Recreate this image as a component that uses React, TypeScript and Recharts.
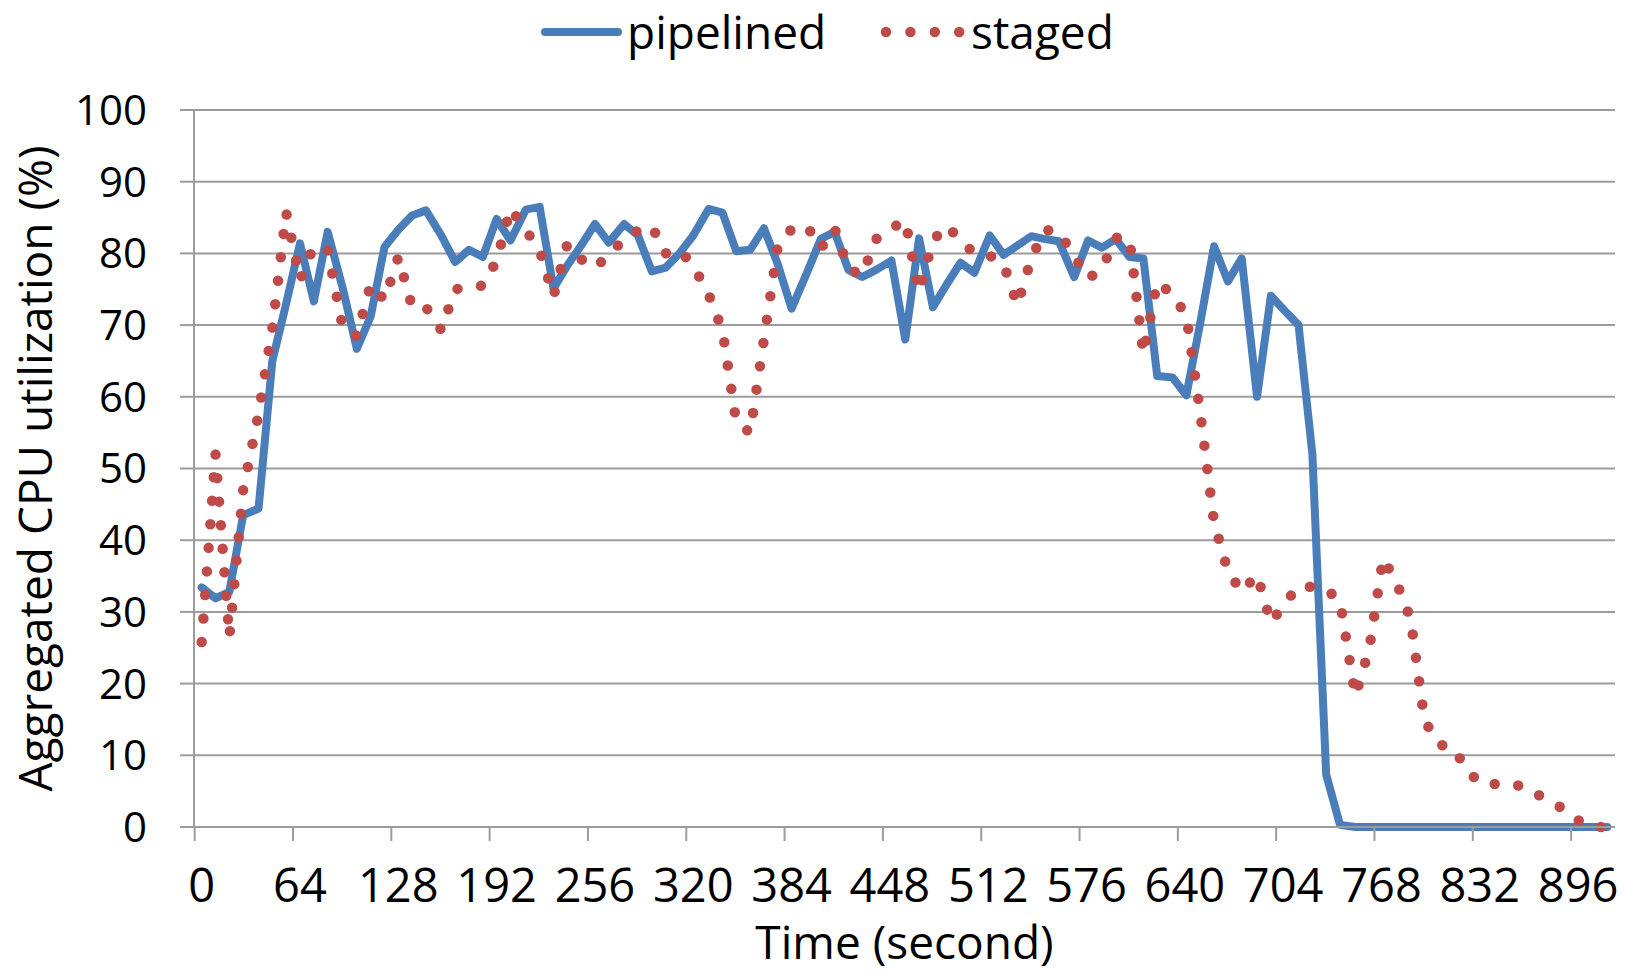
import React from 'react';
import { LineChart, Line, XAxis, YAxis, CartesianGrid, Legend, Label } from 'recharts';

// Sample times (seconds) of the measurements
const TIMES = [
  0, 9, 18, 27, 37, 46, 55, 64, 73, 82,
  92, 101, 110, 119, 128, 137, 146, 156, 165, 174,
  183, 192, 201, 211, 220, 229, 238, 247, 256, 265,
  275, 284, 293, 302, 311, 320, 330, 339, 348, 357,
  366, 375, 384, 394, 403, 412, 421, 430, 439, 449,
  458, 467, 476, 485, 494, 503, 513, 522, 531, 540,
  549, 558, 568, 577, 586, 595, 604, 613, 622, 632,
  641, 650, 659, 668, 677, 687, 696, 705, 714, 723,
  732, 741, 751, 760, 769, 778, 787, 796, 806, 815,
  824, 833, 842, 851, 860, 870, 879, 888, 897, 906,
  915,
];

const PIPELINED = [
  33.4, 31.9, 32.8, 43.5, 44.4, 65, 73, 81.4, 73.3, 83,
  75, 66.7, 71.2, 80.9, 83.3, 85.3, 86, 82.5, 78.8, 80.5,
  79.5, 84.8, 81.8, 86.1, 86.5, 75.1, 78.3, 81.1, 84.1, 81.5,
  84.1, 82.5, 77.5, 78, 80, 82.5, 86.2, 85.7, 80.3, 80.5,
  83.5, 78.5, 72.3, 77.3, 82, 83, 77.7, 76.7, 77.7, 79,
  68, 82.1, 72.5, 75.7, 78.7, 77.3, 82.5, 79.8, 81.1, 82.4,
  82, 81.7, 76.7, 81.8, 80.8, 82, 79.5, 79.3, 62.9, 62.7,
  60.2, 70.3, 81, 76.1, 79.3, 60, 74.1, 72, 70, 52,
  7.3, 0.3, 0, 0, 0, 0, 0, 0, 0, 0,
  0, 0, 0, 0, 0, 0, 0, 0, 0, 0,
  0,
];

const STAGED = [
  25.8, 52, 26.5, 47, 57.6, 69.6, 85.7, 76.3, 81, 80.5,
  69.5, 68.5, 75.7, 73.5, 79.5, 72.5, 72.5, 69.3, 75, 75.3,
  75.5, 79, 86.3, 83.2, 80.5, 74, 81.3, 79.2, 78, 79.8,
  82, 83.2, 83.8, 80, 80.5, 78.3, 74.3, 69.3, 56.5, 55,
  68, 81, 83.4, 83.8, 80.7, 83.5, 77.8, 77, 82, 83.5,
  84.6, 74.7, 81.8, 83.9, 81.8, 80, 79.7, 78.5, 72.8, 79.3,
  83.3, 83, 79.6, 76.5, 77.8, 82.2, 82, 66, 76, 74.3,
  71.3, 57.8, 42.5, 35.7, 32.8, 35.2, 28.5, 31.2, 33.6, 33.5,
  33.2, 31.5, 18.3, 24.8, 37.5, 34, 29, 14.8, 11.5, 11,
  7.8, 6, 6, 5.8, 5.8, 4.5, 3.5, 2.3, 0.8, 0,
  0,
];

const X_TICKS = [0, 64, 128, 192, 256, 320, 384, 448, 512, 576, 640, 704, 768, 832, 896];
const Y_TICKS = [0, 10, 20, 30, 40, 50, 60, 70, 80, 90, 100];
const SERIES = [
  { key: 'pipelined', name: 'pipelined' },
  { key: 'staged', name: 'staged' },
];
const X_TITLE = 'Time (second)';
const Y_TITLE = 'Aggregated CPU utilization (%)';

const FONT = "'Open Sans', 'DejaVu Sans', sans-serif";
const BLUE = '#4A7EBB';
const RED = '#BE4B48';
const GRID = '#9C9C9C';

const data = TIMES.map((t, i) => ({ t, pipelined: PIPELINED[i], staged: STAGED[i] }));

const XTick = (props: any) => {
  const { x, y, payload } = props;
  return (
    <g>
      <line x1={x - 7} x2={x - 7} y1={y} y2={y + 14} stroke={GRID} strokeWidth={2} />
      <text x={x} y={y + 75} textAnchor="middle" fontSize={47} fontFamily={FONT} fill="#000">
        {payload.value}
      </text>
    </g>
  );
};

const YTitle = (props: any) => {
  const vb = props.viewBox || { x: 0, y: 110, width: 194, height: 717 };
  const cx = vb.x + 52;
  const cy = vb.y + vb.height / 2;
  return (
    <text
      x={cx}
      y={cy}
      transform={`rotate(-90, ${cx}, ${cy})`}
      textAnchor="middle"
      fontSize={46}
      fontFamily={FONT}
      fill="#000"
    >
      {Y_TITLE}
    </text>
  );
};

const XTitle = (props: any) => {
  const vb = props.viewBox || { x: 194, y: 827, width: 1421, height: 148 };
  return (
    <text
      x={vb.x + vb.width / 2}
      y={vb.y + 132}
      textAnchor="middle"
      fontSize={46}
      fontFamily={FONT}
      fill="#000"
    >
      {X_TITLE}
    </text>
  );
};

const legendText: React.CSSProperties = {
  position: 'absolute', top: 0, fontSize: 46, lineHeight: 'normal',
  color: '#000', whiteSpace: 'nowrap',
};

const renderLegend = () => (
  <div style={{ position: 'relative', width: 1625, height: 64, fontFamily: FONT }}>
    <svg style={{ position: 'absolute', left: 536, top: 22 }} width={92} height={20}>
      <line x1={9} y1={10} x2={82} y2={10} stroke={BLUE} strokeWidth={8} strokeLinecap="round" />
    </svg>
    <span style={{ ...legendText, left: 627 }}>{SERIES[0].name}</span>
    <svg style={{ position: 'absolute', left: 876, top: 21 }} width={96} height={22}>
      <line
        x1={10} y1={11} x2={84} y2={11} stroke={RED} strokeWidth={10.5}
        strokeLinecap="round" strokeDasharray="0 24.4"
      />
    </svg>
    <span style={{ ...legendText, left: 971 }}>{SERIES[1].name}</span>
  </div>
);

export default function App() {
  return (
    <div style={{ position: 'absolute', left: 0, top: 0, background: '#fff', fontFamily: FONT }}>
      <LineChart
        width={1625}
        height={975}
        data={data}
        margin={{ top: 110, right: 10, bottom: 0, left: 0 }}
      >
        <CartesianGrid horizontal vertical={false} stroke={GRID} strokeWidth={2} />
        <XAxis
          dataKey="t"
          type="number"
          domain={[-5, 920]}
          ticks={X_TICKS}
          interval={0}
          height={148}
          tickSize={0}
          tickMargin={0}
          tickLine={false}
          axisLine={{ stroke: GRID, strokeWidth: 2 }}
          tick={<XTick />}
        >
          <Label content={<XTitle />} />
        </XAxis>
        <YAxis
          type="number"
          domain={[0, 100]}
          ticks={Y_TICKS}
          interval={0}
          width={194}
          tickSize={14}
          tickMargin={33}
          tickLine={{ stroke: GRID, strokeWidth: 2 }}
          axisLine={{ stroke: GRID, strokeWidth: 2 }}
          tick={{ fontSize: 42, fill: '#000', fontFamily: FONT }}
        >
          <Label content={<YTitle />} />
        </YAxis>
        <Legend
          layout="horizontal"
          verticalAlign="middle"
          align="center"
          wrapperStyle={{ top: 0, left: 0, width: 1625, height: 64 }}
          content={renderLegend}
        />
        <Line
          type="linear"
          dataKey={SERIES[0].key}
          name={SERIES[0].name}
          stroke={BLUE}
          strokeWidth={8}
          strokeLinejoin="round"
          strokeLinecap="round"
          dot={false}
          activeDot={false}
          isAnimationActive={false}
        />
        <Line
          type="linear"
          dataKey={SERIES[1].key}
          name={SERIES[1].name}
          stroke={RED}
          strokeWidth={10.5}
          strokeLinecap="round"
          strokeDasharray="0 23.6"
          dot={false}
          activeDot={false}
          isAnimationActive={false}
        />
      </LineChart>
    </div>
  );
}
